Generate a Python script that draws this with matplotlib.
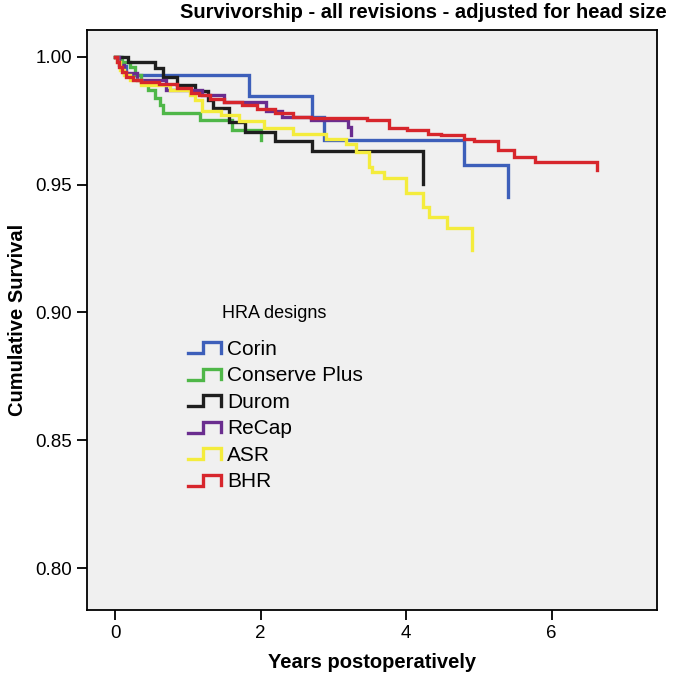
import matplotlib
matplotlib.use("Agg")
import matplotlib.pyplot as plt
from matplotlib import font_manager
from matplotlib.lines import Line2D
from matplotlib.legend_handler import HandlerBase

# Kaplan-Meier steps (years, cumulative survival)
corin_t = [0, 0.08, 0.15, 1.84, 2.71, 2.87, 4.80, 5.40]
corin_s = [1.0, 0.9965, 0.993, 0.9845, 0.9765, 0.9675, 0.9577, 0.9453]

conserve_t = [0, 0.1, 0.2, 0.28, 0.36, 0.45, 0.55, 0.62, 0.66, 1.17, 1.61, 2.0]
conserve_s = [1.0, 0.998, 0.996, 0.993, 0.990, 0.987, 0.984, 0.981, 0.978, 0.9753, 0.9714, 0.9675]

durom_t = [0, 0.18, 0.55, 0.66, 0.85, 1.1, 1.28, 1.35, 1.57, 1.79, 2.2, 2.71, 4.23]
durom_s = [1.0, 0.998, 0.9956, 0.992, 0.989, 0.9865, 0.983, 0.980, 0.9745, 0.9708, 0.967, 0.963, 0.9504]

recap_t = [0, 0.05, 0.12, 0.3, 0.7, 1.2, 1.5, 2.07, 2.3, 2.7, 3.2, 3.24]
recap_s = [1.0, 0.997, 0.9935, 0.991, 0.987, 0.985, 0.9825, 0.979, 0.9766, 0.9754, 0.9725, 0.9695]

asr_t = [0, 0.03, 0.07, 0.12, 0.2, 0.35, 0.76, 1.03, 1.1, 1.2, 1.45, 1.7, 2.05,
         2.45, 2.9, 3.17, 3.31, 3.49, 3.53, 3.70, 4.0, 4.23, 4.32, 4.56, 4.91]
asr_s = [1.0, 0.998, 0.995, 0.993, 0.991, 0.989, 0.987, 0.985, 0.983, 0.979, 0.9773, 0.975, 0.972,
         0.970, 0.968, 0.966, 0.9628, 0.957, 0.955, 0.9526, 0.9468, 0.9413, 0.9374, 0.933, 0.9245]

bhr_t = [0, 0.02, 0.05, 0.1, 0.15, 0.25, 0.35, 0.6, 0.85, 1.05, 1.15, 1.3, 1.5, 1.75, 1.95,
         2.2, 2.45, 2.7, 3.47, 3.77, 4.02, 4.3, 4.48, 4.8, 4.94, 5.27, 5.49, 5.77, 6.63]
bhr_s = [1.0, 0.998, 0.996, 0.994, 0.992, 0.991, 0.990, 0.9895, 0.988, 0.986, 0.985, 0.9835, 0.9825, 0.981, 0.9795,
         0.978, 0.9766, 0.976, 0.9754, 0.9721, 0.9712, 0.970, 0.9693, 0.968, 0.9672, 0.9636, 0.961, 0.959, 0.9557]

designs = ["Corin", "Conserve Plus", "Durom", "ReCap", "ASR", "BHR"]
colors = ["#3d5fba", "#4fb748", "#1e1e1e", "#6a2d8f", "#f4ec3c", "#d7262c"]
x_ticks = [0, 2, 4, 6]
y_ticks = [0.80, 0.85, 0.90, 0.95, 1.00]

# narrow font for the axis texts if it is there
names = set(f.name for f in font_manager.fontManager.ttflist)
if "Liberation Sans Narrow" in names:
    narrow = ["Liberation Sans Narrow", "DejaVu Sans"]
    tick_size, lab_size = 16, 17.5
else:
    narrow = ["Liberation Sans", "DejaVu Sans"]
    tick_size, lab_size = 13.5, 14.5
plt.rcParams["font.family"] = ["Liberation Sans", "DejaVu Sans"]


class StepHandler(HandlerBase):
    # little step glyph like the SPSS legend
    def create_artists(self, legend, orig_handle, xdescent, ydescent, width, height, fontsize, trans):
        x0, y0 = -xdescent, -ydescent
        lo, hi = y0 + 0.1 * height, y0 + 0.88 * height
        xs = [x0, x0 + 0.45 * width, x0 + 0.45 * width, x0 + width, x0 + width]
        ys = [lo, lo, hi, hi, lo + 0.05 * height]
        ln = Line2D(xs, ys, color=orig_handle.get_color(), lw=orig_handle.get_linewidth(),
                    solid_joinstyle="miter", transform=trans)
        return [ln]


fig = plt.figure(figsize=(6.78, 6.77), dpi=100)
ax = fig.add_axes([0.129, 0.099, 0.840, 0.857])
ax.set_facecolor("#f0f0f0")

series = [(corin_t, corin_s), (conserve_t, conserve_s), (durom_t, durom_s),
          (recap_t, recap_s), (asr_t, asr_s), (bhr_t, bhr_s)]
handles = []
for (t, s), name, c in zip(series, designs, colors):
    h, = ax.step(t, s, where="post", color=c, lw=2.4, solid_joinstyle="miter", label=name)
    handles.append(h)

ax.set_xlim(-0.38, 7.45)
ax.set_ylim(0.7836, 1.0106)
ax.set_xticks(x_ticks)
ax.set_xticklabels([str(v) for v in x_ticks], family=narrow, fontsize=tick_size)
ax.set_yticks(y_ticks)
ax.set_yticklabels(["%.2f" % v for v in y_ticks], family=narrow, fontsize=tick_size)
ax.tick_params(direction="out", length=7, width=1.3, pad=4)
for sp in ax.spines.values():
    sp.set_linewidth(1.3)

ax.set_xlabel("Years postoperatively", family=narrow, fontsize=lab_size, weight="bold", labelpad=8)
ax.set_ylabel("Cumulative Survival", family=narrow, fontsize=lab_size, weight="bold", labelpad=6)
fig.text(0.624, 0.981, "Survivorship - all revisions - adjusted for head size",
         family=narrow, fontsize=lab_size, weight="bold", ha="center", va="center")

# legend title drawn on its own, the SPSS one sits well above the entries
fig.text(274 / 678, 1 - 314 / 677, "HRA designs", fontsize=13, ha="center", va="center")
leg = ax.legend(handles=handles, labels=designs,
                handler_map={Line2D: StepHandler()}, loc="upper left",
                bbox_to_anchor=(0.277, 0.498), bbox_transform=fig.transFigure,
                frameon=False, fontsize=15, handlelength=1.6,
                handletextpad=0.3, labelspacing=0.36, borderaxespad=0, borderpad=0)

fig.savefig("out.png", dpi=100)
